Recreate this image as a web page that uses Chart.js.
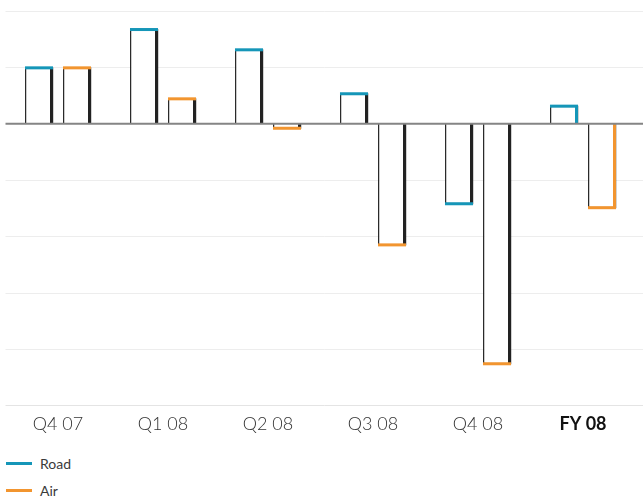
<!DOCTYPE html>
<html>
<head>
<meta charset="utf-8">
<script src="https://cdn.jsdelivr.net/npm/chart.js@4.4.0/dist/chart.umd.min.js"></script>
<style>
  body { margin: 0; background: #fff; font-family: Lato, "Open Sans", sans-serif; }
  #wrap { position: relative; width: 643px; height: 444px; }
  .legend { position: absolute; left: 6px; top: 450px; font-size: 14px; color: #3a3a3a; font-weight: 400; }
  .item { display: flex; align-items: center; height: 27px; }
  .swatch { width: 26px; height: 3px; margin-right: 8px; }
</style>
</head>
<body>
<div id="wrap"><canvas id="chart"></canvas></div>
<div class="legend" id="legend"></div>
<script>
// data (1 unit = one gridline step)
const labels = ['Q4 07', 'Q1 08', 'Q2 08', 'Q3 08', 'Q4 08', 'FY 08'];
const road = [1.0, 1.68, 1.32, 0.54, -1.43, 0.32];
const air = [1.0, 0.45, -0.09, -2.16, -4.27, -1.5];
const gridTicks = [2, 1, 0, -1, -2, -3, -4, -5];

const BLUE = '#1596b8';
const ORANGE = '#f2952f';

// gridlines run to the right edge of the canvas, zero line on top of bars
const edges = {
  id: 'edges',
  beforeDatasetsDraw(chart) {
    const ctx = chart.ctx, y = chart.scales.y;
    ctx.save();
    gridTicks.forEach(v => {
      if (v === 0) return;
      const py = Math.round(y.getPixelForValue(v)) + 0.5;
      ctx.strokeStyle = v === -5 ? '#e4e4e4' : '#ededed';
      ctx.lineWidth = 1;
      ctx.beginPath();
      ctx.moveTo(chart.chartArea.left, py);
      ctx.lineTo(chart.width, py);
      ctx.stroke();
    });
    ctx.restore();
  },
  afterDatasetsDraw(chart) {
    const ctx = chart.ctx, y = chart.scales.y;
    ctx.save();
    chart.data.datasets.forEach((ds, di) => {
      const meta = chart.getDatasetMeta(di);
      meta.data.forEach((bar, i) => {
        const p = bar.getProps(['x', 'y', 'base', 'width'], true);
        const left = p.x - p.width / 2, right = p.x + p.width / 2;
        const top = Math.min(p.y, p.base), bottom = Math.max(p.y, p.base);
        const last = i === labels.length - 1;
        // light shade right of the thick edge
        ctx.fillStyle = 'rgba(0,0,0,0.18)';
        ctx.fillRect(right, top, 1, bottom - top);
        // thick right edge
        ctx.fillStyle = last ? ds.edgeColor : '#222';
        ctx.fillRect(right - 3, top, 3, bottom - top);
        // value end in series colour
        ctx.fillStyle = ds.edgeColor;
        if (p.y < p.base) ctx.fillRect(left, p.y - 1, p.width, 3);
        else ctx.fillRect(left, p.y - 2, p.width, 3);
      });
    });
    const zy = y.getPixelForValue(0);
    ctx.strokeStyle = '#858585';
    ctx.lineWidth = 2;
    ctx.beginPath();
    ctx.moveTo(chart.chartArea.left, zy);
    ctx.lineTo(chart.width, zy);
    ctx.stroke();
    ctx.restore();
  }
};

const barStyle = {
  backgroundColor: '#fff',
  borderColor: '#2a2a2a',
  borderWidth: 1.5,
  categoryPercentage: 0.724,
  barPercentage: 0.737
};

new Chart(document.getElementById('chart'), {
  type: 'bar',
  data: {
    labels: labels,
    datasets: [
      Object.assign({ label: 'Road', data: road, edgeColor: BLUE }, barStyle),
      Object.assign({ label: 'Air', data: air, edgeColor: ORANGE }, barStyle)
    ]
  },
  options: {
    responsive: true,
    maintainAspectRatio: false,
    animation: false,
    layout: { padding: { left: 5.5, right: 7.5, top: 11, bottom: 9 } },
    plugins: {
      legend: { display: false },
      tooltip: { enabled: false }
    },
    scales: {
      y: { display: false, min: -5, max: 2 },
      x: {
        grid: { display: false },
        border: { display: false },
        ticks: {
          padding: 0,
          color: ctx => ctx.index === labels.length - 1 ? '#111' : '#333',
          font: ctx => ({
            family: 'Lato, "Open Sans", sans-serif',
            size: 18,
            weight: ctx.index === labels.length - 1 ? 'bold' : '300'
          })
        }
      }
    }
  },
  plugins: [edges]
});

// legend listed below the chart, one row per series
const legend = document.getElementById('legend');
[['Road', BLUE], ['Air', ORANGE]].forEach(([name, color]) => {
  const row = document.createElement('div');
  row.className = 'item';
  row.innerHTML = '<span class="swatch" style="background:' + color + '"></span><span>' + name + '</span>';
  legend.appendChild(row);
});
</script>
</body>
</html>
